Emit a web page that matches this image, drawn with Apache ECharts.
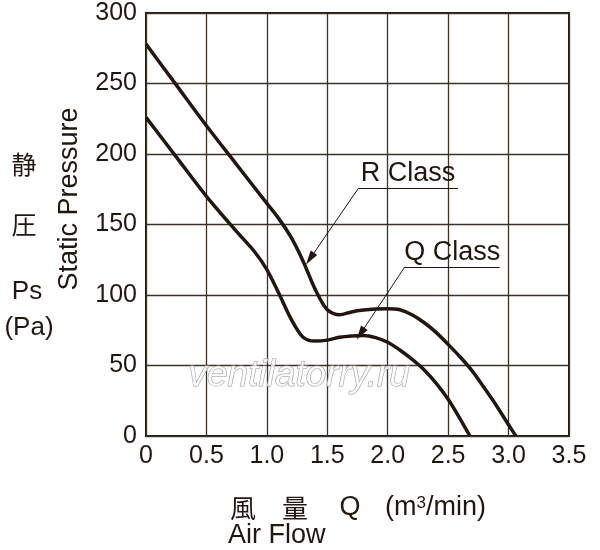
<!DOCTYPE html>
<html><head><meta charset="utf-8">
<script src="https://cdn.jsdelivr.net/npm/echarts@6/dist/echarts.min.js"></script>
<style>html,body{margin:0;padding:0;background:#fff}#c{width:600px;height:550px}</style>
</head><body><div id="c"></div>
<script>
// Air flow (m3/min) and static pressure (Pa)
const rClassQ  = [0, 0.25, 0.5, 0.75, 1.0, 1.1, 1.2, 1.3, 1.4, 1.5, 1.6, 1.7, 1.8, 1.9, 2.0, 2.1, 2.2, 2.3, 2.4, 2.5, 2.6, 2.7, 2.8, 2.9, 3.0, 3.06];
const rClassPs = [278, 249, 220, 192.5, 165, 154, 141, 124, 104, 89.5, 86, 88, 89.3, 90, 90.2, 89.5, 86, 80.5, 73.5, 65, 56, 46, 34, 21.5, 8, 0];
const qClassQ  = [0, 0.25, 0.5, 0.75, 0.9, 1.0, 1.1, 1.2, 1.3, 1.4, 1.5, 1.6, 1.7, 1.8, 1.9, 2.0, 2.1, 2.2, 2.3, 2.4, 2.5, 2.6, 2.68];
const qClassPs = [226, 198, 170, 145, 130.5, 118, 101, 83, 70, 67.3, 68, 70, 71, 71.3, 69.8, 66.5, 61, 54.5, 47, 37.5, 26, 12, 0];
const xTickMin = 0, xTickMax = 3.5, xTickStep = 0.5;
const yTickMin = 0, yTickMax = 300, yTickStep = 50;
// annotation anchors in data coordinates: [underline start, underline end, arrow tip]
const rLabelAnchor = [[1.756, 175.5], [2.581, 175.5], [1.357, 125.8]];
const qLabelAnchor = [[2.141, 119.9], [2.926, 119.9], [1.775, 72.6]];

const ink = '#231610';
const gridInk = '#3d3226';
const font = '"Liberation Sans", Arial, "Noto Sans CJK JP", sans-serif';
const cjk = '"Noto Sans CJK JP", "Liberation Sans", sans-serif';

function pairs(xs, ys){ return xs.map((x,i)=>[x, ys[i]]); }

function annot(anchor, text){
  return [
    [{coord: anchor[0], symbol: 'none'}, {coord: anchor[1], symbol: 'none',
      label: {show: true, formatter: text, position: 'insideMiddleTop'}}],
    [{coord: anchor[0], symbol: 'none'}, {coord: anchor[2], symbol: 'triangle', symbolSize: [8, 14]}]
  ];
}

const chart = echarts.init(document.getElementById('c'));
chart.setOption({
  animation: false,
  backgroundColor: '#fff',
  grid: {left: 146, right: 31, top: 13, bottom: 114, show: true, borderColor: ink, borderWidth: 2, backgroundColor: 'transparent'},
  xAxis: {
    type: 'value', min: xTickMin, max: xTickMax, interval: xTickStep,
    axisLine: {show: false}, axisTick: {show: false},
    splitLine: {show: true, lineStyle: {color: gridInk, width: 1.3}},
    axisLabel: {margin: 8, color: ink, fontSize: 25, fontFamily: font,
      formatter: v => v === 0 ? '0' : v.toFixed(1)}
  },
  yAxis: {
    type: 'value', min: yTickMin, max: yTickMax, interval: yTickStep,
    axisLine: {show: false}, axisTick: {show: false},
    splitLine: {show: true, lineStyle: {color: gridInk, width: 1.3}},
    axisLabel: {margin: 9, color: ink, fontSize: 25, fontFamily: font}
  },
  series: [
    {type: 'line', name: 'R Class', data: pairs(rClassQ, rClassPs), showSymbol: false,
     smooth: 0.3, lineStyle: {color: ink, width: 3.5}, z: 3,
     markLine: {silent: true, animation: false, symbol: ['none','none'],
       lineStyle: {color: ink, width: 1, type: 'solid'},
       label: {color: ink, fontSize: 27, fontFamily: font, distance: 1},
       data: annot(rLabelAnchor, 'R Class')}},
    {type: 'line', name: 'Q Class', data: pairs(qClassQ, qClassPs), showSymbol: false,
     smooth: 0.3, lineStyle: {color: ink, width: 3.5}, z: 3,
     markLine: {silent: true, animation: false, symbol: ['none','none'],
       lineStyle: {color: ink, width: 1, type: 'solid'},
       label: {color: ink, fontSize: 27, fontFamily: font, distance: 1},
       data: annot(qLabelAnchor, 'Q Class')}}
  ],
  graphic: [
    {type: 'text', left: 188, top: 357, z: 1, style: {text: 'ventilatorry.ru', font: 'italic 37px "Liberation Sans", Arial, sans-serif',
      fill: 'rgba(255,255,255,0.75)', stroke: '#9a9a9a', lineWidth: 1}},
    {type: 'text', x: 24, y: 164, style: {text: '静', font: '25px ' + cjk, fill: ink, align: 'center', verticalAlign: 'middle'}},
    {type: 'text', x: 24, y: 224, style: {text: '圧', font: '25px ' + cjk, fill: ink, align: 'center', verticalAlign: 'middle'}},
    {type: 'text', x: 27, y: 292, style: {text: 'Ps', font: '26px ' + font, fill: ink, align: 'center', verticalAlign: 'middle'}},
    {type: 'text', x: 29, y: 328, style: {text: '(Pa)', font: '26px ' + font, fill: ink, align: 'center', verticalAlign: 'middle'}},
    {type: 'text', x: 70, y: 199, rotation: Math.PI/2, style: {text: 'Static Pressure', font: '27px ' + font, fill: ink, align: 'center', verticalAlign: 'middle'}},
    {type: 'text', x: 243, y: 508, style: {text: '風', font: '26px ' + cjk, fill: ink, align: 'center', verticalAlign: 'middle'}},
    {type: 'text', x: 295, y: 508, style: {text: '量', font: '26px ' + cjk, fill: ink, align: 'center', verticalAlign: 'middle'}},
    {type: 'text', x: 350, y: 508, style: {text: 'Q', font: '27px ' + font, fill: ink, align: 'center', verticalAlign: 'middle'}},
    {type: 'text', x: 385, y: 508, style: {text: '(m{s|3}/min)', fill: ink, align: 'left', verticalAlign: 'middle',
      font: '27px ' + font, rich: {s: {fontSize: 17, fontFamily: font, fill: ink, verticalAlign: 'top', padding: [0,0,10,0]}}}},
    {type: 'text', x: 228, y: 536, style: {text: 'Air Flow', font: '27px ' + font, fill: ink, align: 'left', verticalAlign: 'middle'}}
  ]
});
</script></body></html>
